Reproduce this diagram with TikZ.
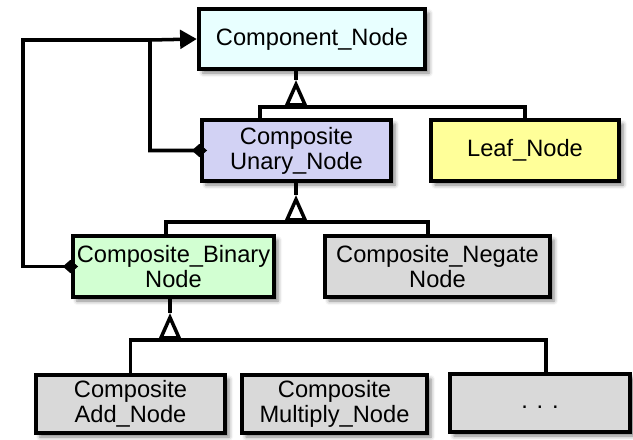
\documentclass[tikz,border=0pt]{standalone}
\usepackage{fontspec}
\setmainfont{Liberation Sans}
\usepackage{tikz}
\usetikzlibrary{positioning,arrows.meta,shadows.blur}
\definecolor{paleaqua}{HTML}{E8FFFF}
\definecolor{lavender}{HTML}{D2D2F4}
\definecolor{paleyellow}{HTML}{FFFF99}
\definecolor{palegreen}{HTML}{D2FFD2}
\definecolor{boxgray}{HTML}{D9D9D9}

\begin{document}
\begin{tikzpicture}[
      x=0.03cm, y=-0.03cm,
      class/.style={rectangle, draw=black, line width=3.8pt, align=center, inner sep=0pt,
        minimum height=1.83cm, font=\fontsize{20.2}{21.3}\selectfont,
        blur shadow={shadow xshift=0.12cm, shadow yshift=-0.12cm, shadow blur radius=0.12cm, shadow opacity=50}},
      con/.style={line width=3pt, draw=black},
      inh/.style={con, -{Triangle[open, width=0.68cm, length=0.8cm]}},
      agg/.style={con, shorten <=-0.22cm, {Diamond[width=0.4cm, length=0.46cm]}-{Triangle[width=0.56cm, length=0.5cm]}}
      ]
      \useasboundingbox (0,0) rectangle (633,439);
      \node[class, fill=paleaqua, minimum width=6.78cm, minimum height=1.8cm] (COMP) at (312,39) {Component\_Node};
      \node[class, fill=lavender, minimum width=5.67cm] (UNA) at (296.5,150.5) {Composite\\Unary\_Node};
      \node[class, fill=paleyellow, minimum width=5.64cm] (LEAF) at (525,150.5) {Leaf\_Node};
      \node[class, fill=palegreen, minimum width=6.03cm] (BIN) at (173.5,266.5) {Composite\_Binary\\Node};
      \node[class, fill=boxgray, minimum width=6.75cm] (NEG) at (437.5,266.5) {Composite\_Negate\\Node};
      \node[class, fill=boxgray, minimum width=5.67cm, minimum height=1.74cm] (ADD) at (130.5,404) {Composite\\Add\_Node};
      \node[class, fill=boxgray, minimum width=5.55cm, minimum height=1.74cm] (MUL) at (334.5,404) {Composite\\Multiply\_Node};
      \node[class, fill=boxgray, minimum width=5.4cm, minimum height=1.74cm] (ETC) at (540,403) {\vphantom{Ag}. . .};

      % generalisation
      \coordinate (J1) at (296,107);
      \coordinate (T1) at (296,80);
      \coordinate (J2) at (296,222);
      \coordinate (T2) at (296,195);
      \coordinate (J3) at (170,340);
      \coordinate (T3) at (170,313);
      \draw[inh] (J1) -- (T1);
      \draw[con] (T1) -- (T1 |- COMP.south);
      \draw[con] (UNA.north -| 260,0) |- (J1) -| (LEAF.north);
      \draw[inh] (J2) -- (T2);
      \draw[con] (T2) -- (T2 |- UNA.south);
      \draw[con] (BIN.north -| 166,0) |- (J2) -| (NEG.north -| 428,0);
      \draw[inh] (J3) -- (T3);
      \draw[con] (T3) -- (T3 |- BIN.south);
      \draw[con] (ADD.north) |- (J3) -| (ETC.north -| 546,0);
      \draw[con] (MUL.north -| 337,0) -- (MUL.north -| 337,340);

      % aggregation
      \coordinate (AJ) at (150,40);
      \draw[agg] (UNA.west) -| (AJ) -- (COMP.west);
      \draw[con, shorten <=-0.22cm, {Diamond[width=0.4cm, length=0.46cm]}-] (BIN.west) -- ++(-48,0) |- (AJ);
    \end{tikzpicture}
\end{document}
